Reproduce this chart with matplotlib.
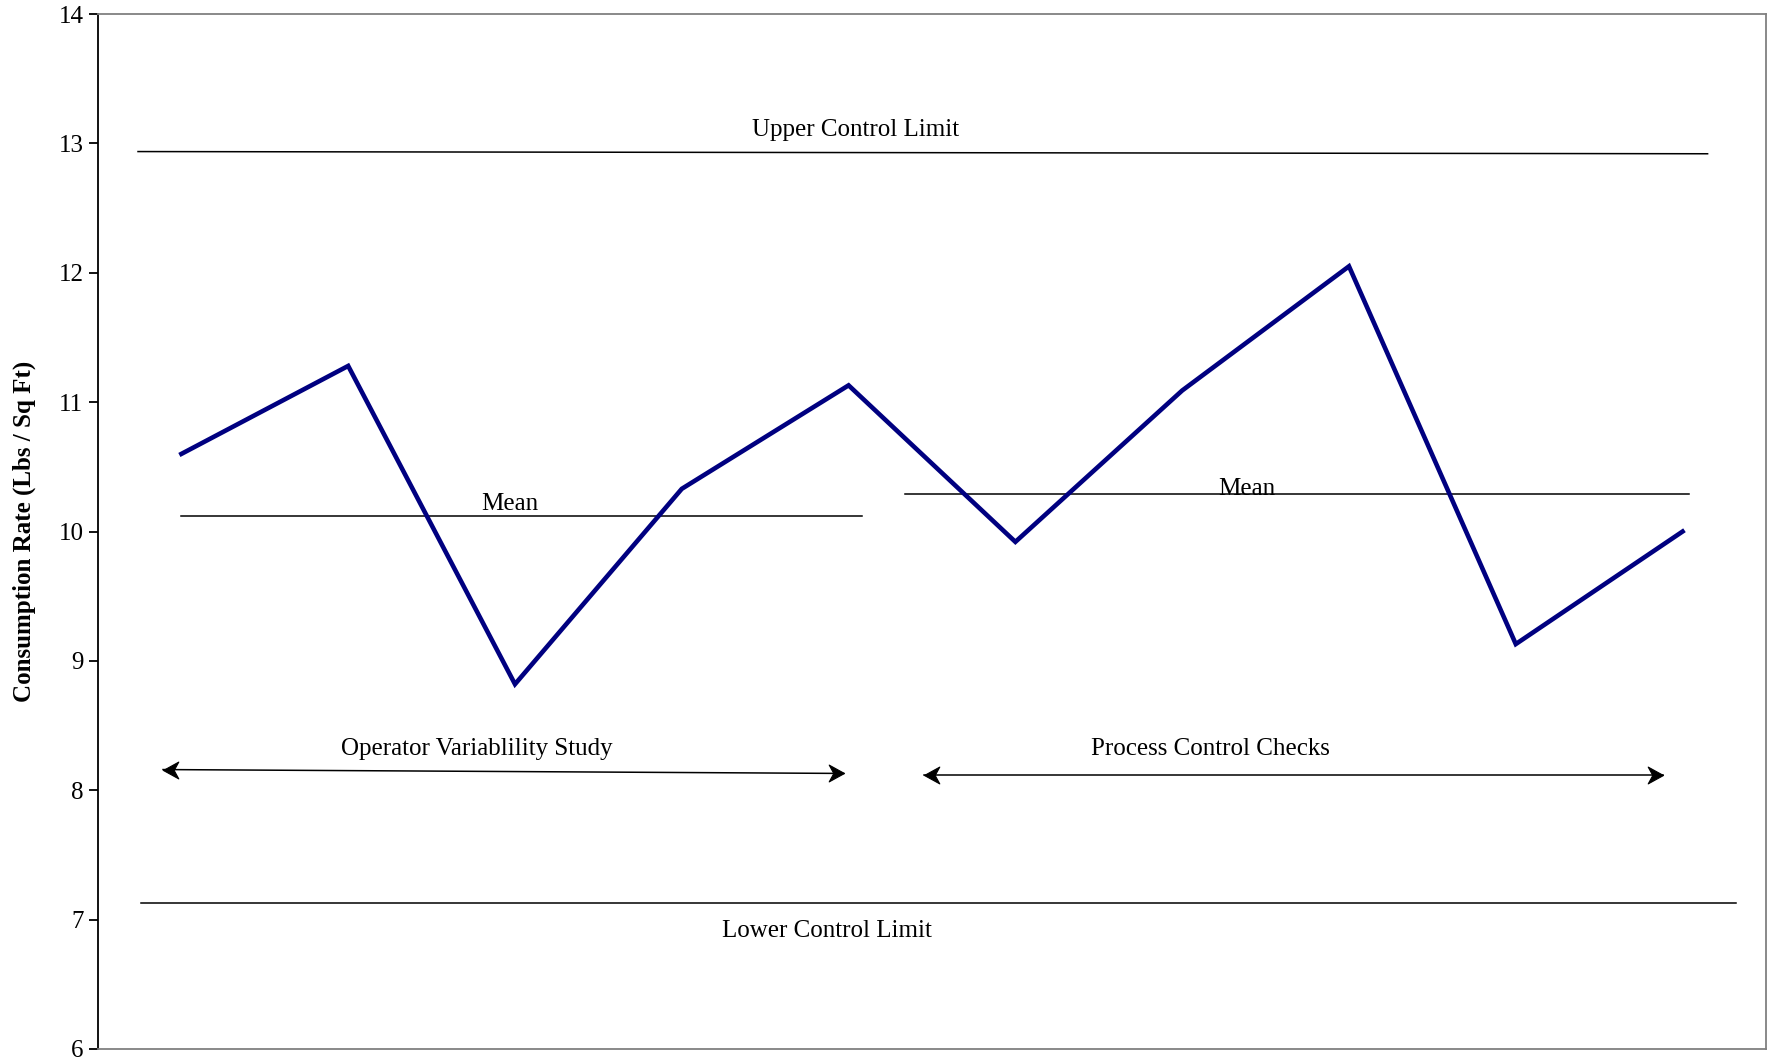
import matplotlib
matplotlib.use("Agg")
import matplotlib.pyplot as plt
from matplotlib.path import Path
import numpy as np

plt.rcParams['font.family'] = ['Liberation Serif', 'DejaVu Serif']

# Data
samples = list(range(10))
consumption = [10.60, 11.28, 8.82, 10.33, 11.13, 9.92, 11.09, 12.05, 9.13, 10.00]
ucl = 12.93
lcl = 7.13
mean_study = 10.12
mean_checks = 10.29
yticks = [6, 7, 8, 9, 10, 11, 12, 13, 14]

fig = plt.figure(figsize=(17.72, 10.64), dpi=100)
ax = fig.add_axes([0.0553, 0.0141, 0.9413, 0.9727])

ax.plot(samples, consumption, color='#000080', linewidth=3.3, solid_joinstyle='miter', zorder=3)

# Control limits and means
ax.plot([-0.26, 9.15], [12.937, 12.92], color='black', linewidth=1.1)
ax.plot([-0.24, 9.32], [lcl, lcl], color='black', linewidth=1.1)
ax.plot([0, 4.08], [mean_study, mean_study], color='black', linewidth=1.1)
ax.plot([4.34, 9.04], [mean_checks, mean_checks], color='black', linewidth=1.1)

# Arrows (stealth-style heads)
left_head = Path([(0, 0), (1, 0.55), (0.7, 0), (1, -0.55), (0, 0)],
                 [Path.MOVETO, Path.LINETO, Path.LINETO, Path.LINETO, Path.CLOSEPOLY])
right_head = Path([(0, 0), (-1, 0.55), (-0.7, 0), (-1, -0.55), (0, 0)],
                  [Path.MOVETO, Path.LINETO, Path.LINETO, Path.LINETO, Path.CLOSEPOLY])


def draw_arrow(x0, y0, x1, y1):
    ax.plot([x0, x1], [y0, y1], color='black', linewidth=1.1)
    ax.plot([x0], [y0], marker=left_head, markersize=22, color='black', markeredgewidth=0.8)
    ax.plot([x1], [y1], marker=right_head, markersize=22, color='black', markeredgewidth=0.8)


draw_arrow(-0.11, 8.16, 3.97, 8.13)
draw_arrow(4.45, 8.12, 8.88, 8.12)

fs = 18
ax.text(4.04, 13.1, 'Upper Control Limit', ha='center', va='center', fontsize=fs)
ax.text(1.97, 10.21, 'Mean', ha='center', va='center', fontsize=fs)
ax.text(6.39, 10.33, 'Mean', ha='center', va='center', fontsize=fs)
ax.text(1.77, 8.32, 'Operator Variablility Study', ha='center', va='center', fontsize=fs)
ax.text(6.17, 8.32, 'Process Control Checks', ha='center', va='center', fontsize=fs)
ax.text(3.87, 6.91, 'Lower Control Limit', ha='center', va='center', fontsize=fs)

ax.set_xlim(-0.5, 9.5)
ax.set_ylim(6, 14)
ax.set_yticks(yticks)
ax.set_yticklabels([str(t) for t in yticks], fontsize=fs)
ax.set_xticks([])
ax.tick_params(axis='y', direction='out', length=6.5, width=1.3, pad=4)

ax.spines['left'].set_color('black')
ax.spines['left'].set_linewidth(1.3)
for s in ['top', 'right', 'bottom']:
    ax.spines[s].set_color('#808080')
    ax.spines[s].set_linewidth(1.3)

ax.set_ylabel('Consumption Rate (Lbs / Sq Ft)', fontsize=18, fontweight='bold')
ax.yaxis.set_label_coords(-0.037, 0.5)

fig.savefig('out.png', dpi=100)
